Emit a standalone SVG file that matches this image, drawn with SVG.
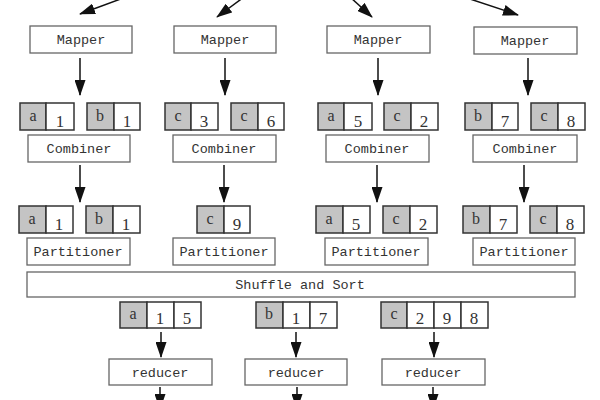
<svg xmlns="http://www.w3.org/2000/svg" width="600" height="400" viewBox="0 0 600 400">
<style>
.box{fill:#fff;stroke:#666;stroke-width:1.3}
.lbl{font-family:"Liberation Mono","DejaVu Sans Mono",monospace;font-size:13.5px;fill:#333;text-anchor:middle}
.k{fill:#c4c4c4;stroke:#333;stroke-width:1.5}
.v{fill:#fff;stroke:#333;stroke-width:1.5}
.kt{font-family:"Liberation Serif",serif;font-size:16px;fill:#333;text-anchor:middle}
.vt{font-family:"Liberation Serif",serif;font-size:17px;fill:#333;text-anchor:middle}
.ar{stroke:#111;stroke-width:1.5;fill:none;marker-end:url(#ah)}
</style>
<defs>
<marker id="ah" markerUnits="userSpaceOnUse" markerWidth="16" markerHeight="11" refX="15" refY="5.5" orient="auto">
<path d="M0,0 L16,5.5 L0,11 z" fill="#111"/>
</marker>
</defs>
<rect width="600" height="400" fill="#fff"/>

<g id="connectors">
<line class="ar" x1="126" y1="-3" x2="80" y2="14"/>
<line class="ar" x1="244" y1="-3" x2="217" y2="17"/>
<line class="ar" x1="350" y1="-3" x2="372" y2="17"/>
<line class="ar" x1="464" y1="-3" x2="518" y2="15"/>
<line class="ar" x1="80" y1="58" x2="80" y2="95"/>
<line class="ar" x1="225" y1="58" x2="225" y2="95"/>
<line class="ar" x1="378" y1="58" x2="378" y2="95"/>
<line class="ar" x1="528" y1="58" x2="528" y2="95"/>
<line class="ar" x1="80" y1="165" x2="80" y2="202"/>
<line class="ar" x1="224" y1="165" x2="224" y2="202"/>
<line class="ar" x1="377" y1="165" x2="377" y2="202"/>
<line class="ar" x1="524" y1="165" x2="524" y2="202"/>
<line class="ar" x1="161" y1="332" x2="161" y2="357"/>
<line class="ar" x1="296" y1="332" x2="296" y2="357"/>
<line class="ar" x1="434" y1="332" x2="434" y2="357"/>
<line class="ar" x1="160" y1="387" x2="160" y2="409"/>
<line class="ar" x1="297" y1="387" x2="297" y2="409"/>
<line class="ar" x1="433" y1="387" x2="433" y2="409"/>
</g>

<g id="mapper1"><rect class="box" x="30" y="26" width="102" height="27"/><text class="lbl" x="81" y="44">Mapper</text></g>
<g id="mapper2"><rect class="box" x="174" y="26" width="102" height="27"/><text class="lbl" x="225" y="44">Mapper</text></g>
<g id="mapper3"><rect class="box" x="327" y="26" width="103" height="27"/><text class="lbl" x="378" y="44">Mapper</text></g>
<g id="mapper4"><rect class="box" x="474" y="27" width="103" height="27"/><text class="lbl" x="525" y="45">Mapper</text></g>

<g id="m1a"><rect class="k" x="20" y="103" width="26" height="27"/><rect class="v" x="46" y="103" width="28" height="27"/><text class="kt" x="33" y="121">a</text><text class="vt" x="60" y="127">1</text></g>
<g id="m1b"><rect class="k" x="87" y="103" width="27" height="27"/><rect class="v" x="114" y="103" width="26" height="27"/><text class="kt" x="100" y="121">b</text><text class="vt" x="127" y="127">1</text></g>
<g id="m2a"><rect class="k" x="165" y="103" width="26" height="27"/><rect class="v" x="191" y="103" width="27" height="27"/><text class="kt" x="178" y="121">c</text><text class="vt" x="204" y="127">3</text></g>
<g id="m2b"><rect class="k" x="231" y="103" width="27" height="27"/><rect class="v" x="258" y="103" width="26" height="27"/><text class="kt" x="244" y="121">c</text><text class="vt" x="271" y="127">6</text></g>
<g id="m3a"><rect class="k" x="318" y="103" width="26" height="27"/><rect class="v" x="344" y="103" width="28" height="27"/><text class="kt" x="331" y="121">a</text><text class="vt" x="358" y="127">5</text></g>
<g id="m3b"><rect class="k" x="384" y="103" width="27" height="27"/><rect class="v" x="411" y="103" width="27" height="27"/><text class="kt" x="397" y="121">c</text><text class="vt" x="424" y="127">2</text></g>
<g id="m4a"><rect class="k" x="465" y="103" width="27" height="27"/><rect class="v" x="492" y="103" width="26" height="27"/><text class="kt" x="478" y="121">b</text><text class="vt" x="505" y="127">7</text></g>
<g id="m4b"><rect class="k" x="531" y="103" width="27" height="27"/><rect class="v" x="558" y="103" width="27" height="27"/><text class="kt" x="544" y="121">c</text><text class="vt" x="571" y="127">8</text></g>

<g id="combiner1"><rect class="box" x="28" y="135" width="102" height="27"/><text class="lbl" x="79" y="153">Combiner</text></g>
<g id="combiner2"><rect class="box" x="173" y="135" width="103" height="27"/><text class="lbl" x="224" y="153">Combiner</text></g>
<g id="combiner3"><rect class="box" x="326" y="135" width="103" height="27"/><text class="lbl" x="377" y="153">Combiner</text></g>
<g id="combiner4"><rect class="box" x="473" y="135" width="104" height="27"/><text class="lbl" x="525" y="153">Combiner</text></g>

<g id="c1a"><rect class="k" x="19" y="206" width="27" height="27"/><rect class="v" x="46" y="206" width="27" height="27"/><text class="kt" x="32" y="224">a</text><text class="vt" x="59" y="230">1</text></g>
<g id="c1b"><rect class="k" x="86" y="206" width="27" height="27"/><rect class="v" x="113" y="206" width="27" height="27"/><text class="kt" x="99" y="224">b</text><text class="vt" x="126" y="230">1</text></g>
<g id="c2a"><rect class="k" x="197" y="206" width="27" height="27"/><rect class="v" x="224" y="206" width="26" height="27"/><text class="kt" x="210" y="224">c</text><text class="vt" x="237" y="230">9</text></g>
<g id="c3a"><rect class="k" x="316" y="206" width="27" height="27"/><rect class="v" x="343" y="206" width="27" height="27"/><text class="kt" x="329" y="224">a</text><text class="vt" x="356" y="230">5</text></g>
<g id="c3b"><rect class="k" x="383" y="206" width="27" height="27"/><rect class="v" x="410" y="206" width="27" height="27"/><text class="kt" x="396" y="224">c</text><text class="vt" x="423" y="230">2</text></g>
<g id="c4a"><rect class="k" x="463" y="206" width="27" height="27"/><rect class="v" x="490" y="206" width="27" height="27"/><text class="kt" x="476" y="224">b</text><text class="vt" x="503" y="230">7</text></g>
<g id="c4b"><rect class="k" x="530" y="206" width="27" height="27"/><rect class="v" x="557" y="206" width="27" height="27"/><text class="kt" x="543" y="224">c</text><text class="vt" x="570" y="230">8</text></g>

<g id="partitioner1"><rect class="box" x="27" y="238" width="103" height="27"/><text class="lbl" x="78" y="256">Partitioner</text></g>
<g id="partitioner2"><rect class="box" x="173" y="238" width="102" height="27"/><text class="lbl" x="224" y="256">Partitioner</text></g>
<g id="partitioner3"><rect class="box" x="325" y="238" width="103" height="27"/><text class="lbl" x="376" y="256">Partitioner</text></g>
<g id="partitioner4"><rect class="box" x="473" y="238" width="102" height="27"/><text class="lbl" x="524" y="256">Partitioner</text></g>

<g id="shuffle"><rect class="box" x="27" y="272" width="548" height="25"/><text class="lbl" x="300" y="289">Shuffle and Sort</text></g>

<g id="r1"><rect class="k" x="120" y="302" width="27" height="26"/><rect class="v" x="147" y="302" width="27" height="26"/><rect class="v" x="174" y="302" width="27" height="26"/><text class="kt" x="133" y="319">a</text><text class="vt" x="160" y="324">1</text><text class="vt" x="187" y="324">5</text></g>
<g id="r2"><rect class="k" x="256" y="302" width="27" height="26"/><rect class="v" x="283" y="302" width="27" height="26"/><rect class="v" x="310" y="302" width="27" height="26"/><text class="kt" x="269" y="319">b</text><text class="vt" x="296" y="324">1</text><text class="vt" x="323" y="324">7</text></g>
<g id="r3"><rect class="k" x="381" y="302" width="26" height="26"/><rect class="v" x="407" y="302" width="27" height="26"/><rect class="v" x="434" y="302" width="27" height="26"/><rect class="v" x="461" y="302" width="27" height="26"/><text class="kt" x="394" y="319">c</text><text class="vt" x="420" y="324">2</text><text class="vt" x="447" y="324">9</text><text class="vt" x="474" y="324">8</text></g>

<g id="reducer1"><rect class="box" x="109" y="359" width="103" height="26"/><text class="lbl" x="160" y="377">reducer</text></g>
<g id="reducer2"><rect class="box" x="245" y="359" width="102" height="26"/><text class="lbl" x="296" y="377">reducer</text></g>
<g id="reducer3"><rect class="box" x="382" y="359" width="103" height="26"/><text class="lbl" x="433" y="377">reducer</text></g>
</svg>
